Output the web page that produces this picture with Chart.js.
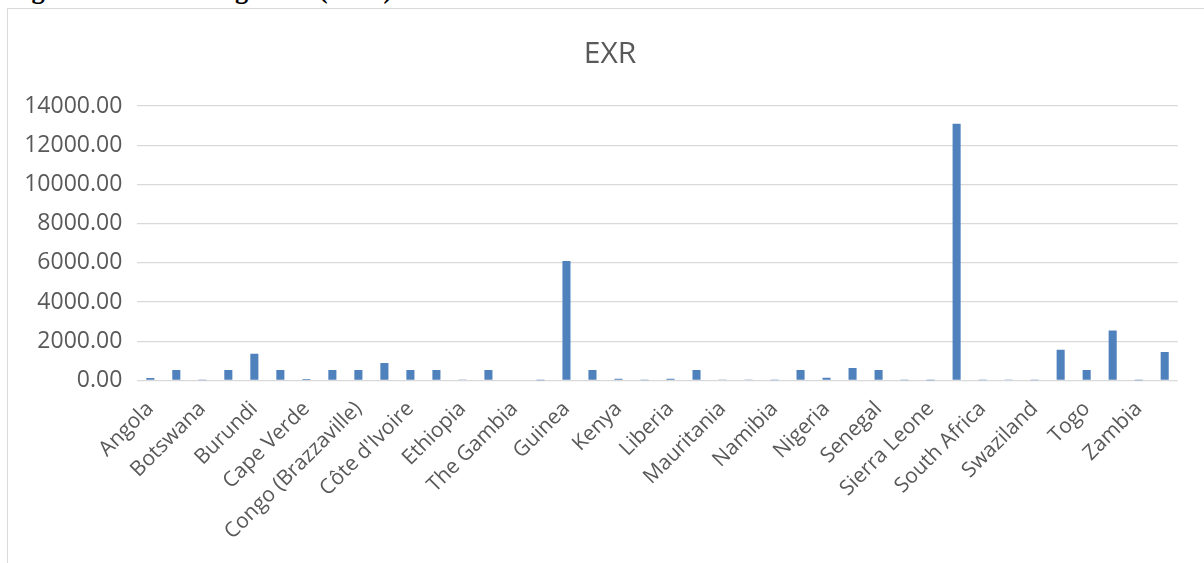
<!DOCTYPE html>
<html>
<head>
<meta charset="utf-8">
<script src="https://cdn.jsdelivr.net/npm/chart.js@4/dist/chart.umd.min.js"></script>
<style>
  html, body { margin: 0; padding: 0; background: #fff; overflow: hidden; }
  body { width: 1204px; height: 563px; position: relative; }
  #caption {
    position: absolute; left: 8px; top: -26px; white-space: nowrap;
    font-family: "Liberation Serif", "Times New Roman", serif; font-weight: bold;
    font-size: 26.5px; color: #000;
  }
  #frame {
    position: absolute; left: 7px; top: 8px; width: 1200px; height: 570px;
    border: 1px solid #d9d9d9; background: #fff; overflow: hidden;
  }
  #chart { position: absolute; left: 8px; top: 0; }
</style>
</head>
<body>
<div id="caption">Figure 4.11: Exchange rate (EXR)</div>
<div id="frame"><canvas id="chart" width="1188" height="554"></canvas></div>
<script>
// Countries on the horizontal axis (every second name is printed)
const countries = [
  "Angola", "Benin", "Botswana", "Burkina Faso", "Burundi", "Cameroon",
  "Cape Verde", "Central African Republic", "Congo (Brazzaville)", "Congo (Kinshasa)",
  "Côte d'Ivoire", "Equatorial Guinea", "Ethiopia", "Gabon", "The Gambia", "Ghana",
  "Guinea", "Guinea-Bissau", "Kenya", "Lesotho", "Liberia", "Mali", "Mauritania",
  "Mauritius", "Namibia", "Niger", "Nigeria", "Rwanda", "Senegal", "Seychelles",
  "Sierra Leone", "Somalia", "South Africa", "Sudan", "Swaziland", "Tanzania",
  "Togo", "Uganda", "Zambia", "Zimbabwe"
];

// Exchange rate (local currency units per US dollar)
const exr = [
  125, 530, 7, 530, 1368, 530,
  78, 530, 530, 893,
  530, 530, 20, 530, 35, 4,
  6100, 530, 85, 9, 85, 530, 25,
  30, 9, 530, 145, 640, 530, 12,
  4, 13100, 10, 25, 10, 1570,
  530, 2550, 5, 1450
];

// Value-axis ticks
const yTicks = [0, 2000, 4000, 6000, 8000, 10000, 12000, 14000];

const FONT = "'Open Sans', 'DejaVu Sans', sans-serif";
const TEXT = "#595959";
const GRID = "#d9d9d9";

// Chart heading, centred on the whole canvas rather than the padded layout box
const centredTitle = {
  id: "centredTitle",
  afterDraw(chart) {
    const ctx = chart.ctx;
    ctx.save();
    ctx.font = "30px " + FONT;
    ctx.fillStyle = TEXT;
    ctx.textAlign = "center";
    ctx.textBaseline = "middle";
    ctx.fillText("EXR", chart.width / 2, 45);
    ctx.restore();
  }
};

new Chart(document.getElementById("chart"), {
  type: "bar",
  data: {
    labels: countries,
    datasets: [{
      label: "EXR",
      data: exr,
      backgroundColor: "#4f81bd",
      borderWidth: 0,
      categoryPercentage: 1,
      barPercentage: 0.31
    }]
  },
  options: {
    responsive: false,
    devicePixelRatio: 1,
    animation: false,
    layout: { padding: { top: 97, left: 0, right: 26.3, bottom: 0 } },
    plugins: {
      legend: { display: false },
      tooltip: { enabled: false },
      title: { display: false }
    },
    scales: {
      x: {
        grid: { display: false, drawTicks: false },
        border: { display: false },
        afterFit(scale) { scale.height = 182.5; },
        ticks: {
          autoSkip: false,
          maxRotation: 45,
          minRotation: 45,
          padding: 16,
          color: TEXT,
          font: { family: FONT, size: 21 },
          callback(value, index) { return index % 2 === 0 ? countries[index] : ""; }
        }
      },
      y: {
        min: yTicks[0],
        max: yTicks[yTicks.length - 1],
        afterBuildTicks(scale) { scale.ticks = yTicks.map(v => ({ value: v })); },
        afterFit(scale) { scale.width = 121.3; },
        grid: { color: GRID, lineWidth: 1.3, drawTicks: false },
        border: { display: false },
        ticks: {
          padding: 15,
          color: TEXT,
          font: { family: FONT, size: 23 },
          callback(value) { return Number(value).toFixed(2); }
        }
      }
    }
  },
  plugins: [centredTitle]
});
</script>
</body>
</html>
